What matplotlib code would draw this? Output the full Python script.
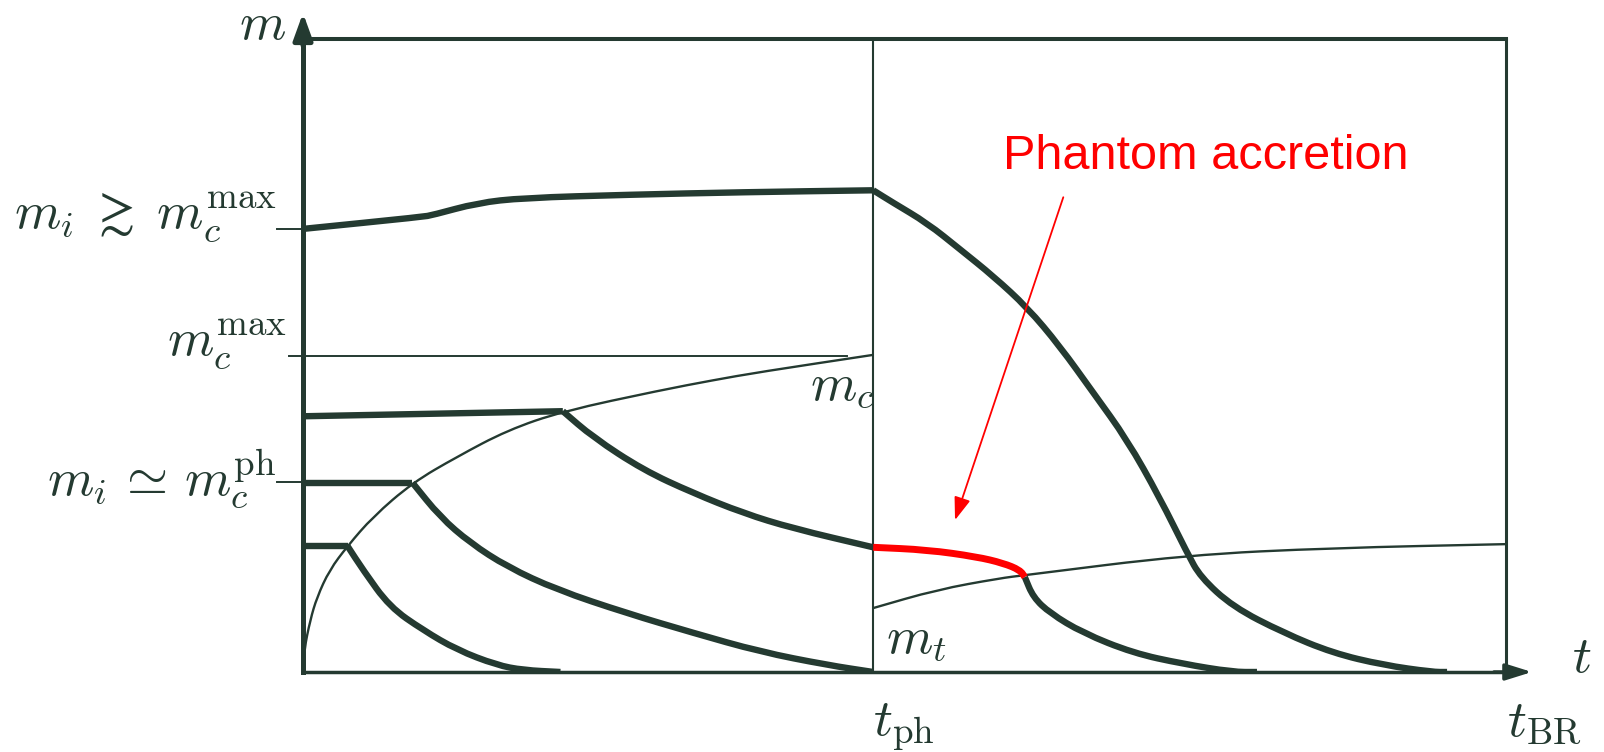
import matplotlib
matplotlib.use("Agg")
import matplotlib.pyplot as plt
from matplotlib.path import Path
from matplotlib.patches import PathPatch

plt.rcParams['mathtext.fontset'] = 'cm'

ink = '#243a31'
red = '#ff0000'

# time in units of t_BR, mass in units of the frame height
t_ph = 0.474
t_BR = 1.0
m_c_max = 0.5
m_c_ph = 0.3
m_i_high = 0.7

# critical mass m_c(t), grows until t_ph
t_mc = [0.0, 0.001, 0.006, 0.0116, 0.022, 0.037, 0.058, 0.091, 0.128, 0.170, 0.216, 0.297, 0.341, 0.380, 0.474]
m_mc = [0.0, 0.035, 0.082, 0.118, 0.161, 0.199, 0.245, 0.299, 0.340, 0.382, 0.412, 0.445, 0.461, 0.474, 0.501]

# m_t(t) after t_ph
t_mt = [0.474, 0.527, 0.579, 0.600, 0.735, 0.856, 1.0]
m_mt = [0.101, 0.130, 0.148, 0.153, 0.185, 0.196, 0.202]

# black hole with m_i >~ m_c^max: growth up to t_ph, then decay
t_bh1_up = [0.0, 0.099, 0.108, 0.145, 0.183, 0.271, 0.365, 0.474]
m_bh1_up = [0.700, 0.719, 0.722, 0.741, 0.749, 0.754, 0.758, 0.761]
t_bh1_down = [0.474, 0.490, 0.519, 0.546, 0.574, 0.602, 0.629, 0.657, 0.685, 0.712, 0.735,
              0.746, 0.773, 0.815, 0.856, 0.898, 0.939, 0.951]
m_bh1_down = [0.761, 0.742, 0.709, 0.668, 0.625, 0.576, 0.515, 0.441, 0.367, 0.276, 0.188,
              0.150, 0.103, 0.062, 0.030, 0.011, 0.0, 0.0]

# black hole between m_c^ph and m_c^max: grows, evaporates, then phantom accretion
t_bh2_flat = [0.0, 0.216]
m_bh2_flat = [0.404, 0.412]
t_bh2_down = [0.216, 0.241, 0.283, 0.324, 0.366, 0.407, 0.474]
m_bh2_down = [0.412, 0.371, 0.319, 0.283, 0.251, 0.227, 0.197]
t_acc = [0.474, 0.519, 0.560, 0.582, 0.596, 0.600]
m_acc = [0.197, 0.193, 0.182, 0.172, 0.161, 0.150]
t_bh2_end = [0.600, 0.607, 0.621, 0.648, 0.690, 0.731, 0.773, 0.793]
m_bh2_end = [0.150, 0.118, 0.093, 0.062, 0.030, 0.013, 0.0, 0.0]

# black hole with m_i ~ m_c^ph
t_bh3_flat = [0.0, 0.091]
m_bh3_flat = [0.299, 0.299]
t_bh3_down = [0.091, 0.114, 0.139, 0.170, 0.211, 0.269, 0.324, 0.380, 0.436, 0.474]
m_bh3_down = [0.299, 0.245, 0.204, 0.166, 0.130, 0.093, 0.062, 0.032, 0.011, 0.0]

# light black hole
t_bh4_flat = [0.0, 0.037]
m_bh4_flat = [0.199, 0.199]
t_bh4_down = [0.037, 0.050, 0.072, 0.100, 0.128, 0.161, 0.183, 0.214]
m_bh4_down = [0.199, 0.161, 0.103, 0.066, 0.035, 0.011, 0.003, 0.0]


def smooth(ax, t, m, **kw):
    # quadratic bezier through segment midpoints, using the points as controls
    pts = list(zip(t, m))
    if len(pts) < 3:
        verts, codes = pts, [Path.MOVETO, Path.LINETO]
    else:
        verts = [pts[0], ((pts[0][0] + pts[1][0]) / 2, (pts[0][1] + pts[1][1]) / 2)]
        codes = [Path.MOVETO, Path.LINETO]
        for i in range(1, len(pts) - 1):
            a, b = pts[i], pts[i + 1]
            verts += [a, ((a[0] + b[0]) / 2, (a[1] + b[1]) / 2)]
            codes += [Path.CURVE3, Path.CURVE3]
        verts.append(pts[-1])
        codes.append(Path.LINETO)
    ax.add_patch(PathPatch(Path(verts, codes), fill=False, **kw))


fig = plt.figure(figsize=(16.04, 7.52), dpi=100)
ax = fig.add_axes([303 / 1604, 80 / 752, 1203 / 1604, 633 / 752])
ax.set_xlim(0, t_BR)
ax.set_ylim(0, 1)
ax.set_xticks([])
ax.set_yticks([])
for side, lw in [('left', 3.6), ('bottom', 2.5), ('top', 2.9), ('right', 2.2)]:
    ax.spines[side].set_color(ink)
    ax.spines[side].set_linewidth(lw)

# axis arrows
ax.annotate('', xy=(0, 1.041), xytext=(0, 0.99), xycoords='axes fraction',
            arrowprops=dict(arrowstyle='-|>,head_length=16,head_width=5.8', mutation_scale=1,
                            color=ink, lw=3.6, shrinkA=0, shrinkB=0), annotation_clip=False)
ax.annotate('', xy=(1.0216, 0), xytext=(0.99, 0), xycoords='axes fraction',
            arrowprops=dict(arrowstyle='-|>,head_length=16,head_width=5', mutation_scale=1,
                            color=ink, lw=2.5, shrinkA=0, shrinkB=0), annotation_clip=False)

# guide lines
ax.axvline(t_ph, color=ink, lw=1.5)
ax.plot([-0.012, 0.452], [m_c_max, m_c_max], color=ink, lw=1.4, clip_on=False)
ax.plot([-0.022, 0], [m_i_high, m_i_high], color=ink, lw=1.4, clip_on=False)
ax.plot([-0.022, 0], [m_c_ph, m_c_ph], color=ink, lw=1.4, clip_on=False)

thin = dict(edgecolor=ink, lw=1.7)
smooth(ax, t_mc, m_mc, **thin)
smooth(ax, t_mt, m_mt, **thin)

thick = dict(edgecolor=ink, lw=4.6, capstyle='butt', joinstyle='round')
for t, m in [(t_bh1_up, m_bh1_up), (t_bh1_down, m_bh1_down),
             (t_bh2_flat, m_bh2_flat), (t_bh2_down, m_bh2_down), (t_bh2_end, m_bh2_end),
             (t_bh3_flat, m_bh3_flat), (t_bh3_down, m_bh3_down),
             (t_bh4_flat, m_bh4_flat), (t_bh4_down, m_bh4_down)]:
    smooth(ax, t, m, **thick)
smooth(ax, t_acc, m_acc, edgecolor=red, lw=5.0, capstyle='butt', zorder=4)

# labels
fs = 38
ax.text(-0.014, 1.0, r'$m$', fontsize=fs, color=ink, ha='right', va='baseline')
ax.text(-0.022, m_i_high, r'$m_i \;\gtrsim\; m_c^{\mathrm{max}}$', fontsize=fs, color=ink,
        ha='right', va='baseline')
ax.text(-0.013, m_c_max, r'$m_c^{\mathrm{max}}$', fontsize=fs, color=ink, ha='right', va='baseline')
ax.text(-0.022, 0.28, r'$m_i \,\simeq\, m_c^{\mathrm{ph}}$', fontsize=fs, color=ink,
        ha='right', va='baseline')
ax.text(t_ph + 0.001, 0.43, r'$m_c$', fontsize=fs, color=ink, ha='right', va='baseline')
ax.text(t_ph + 0.011, 0.03, r'$m_t$', fontsize=fs, color=ink, ha='left', va='baseline')
ax.text(t_ph, -0.0995, r'$t_{\mathrm{ph}}$', fontsize=fs, color=ink, ha='left', va='baseline')
ax.text(t_BR + 0.001, -0.0995, r'$t_{\mathrm{BR}}$', fontsize=fs, color=ink, ha='left', va='baseline')
ax.text(1.055, 0.0, r'$t$', fontsize=fs, color=ink, ha='left', va='baseline')

ax.text(0.582, 0.795, 'Phantom accretion', fontsize=35, color=red,
        family='Liberation Sans', ha='left', va='baseline')
ax.annotate('', xy=(0.542, 0.240), xytext=(0.632, 0.750),
            arrowprops=dict(arrowstyle='-|>,head_length=14,head_width=5', mutation_scale=1,
                            color=red, lw=1.3, shrinkA=0, shrinkB=0))

fig.savefig('out.png', dpi=100, facecolor='white')
